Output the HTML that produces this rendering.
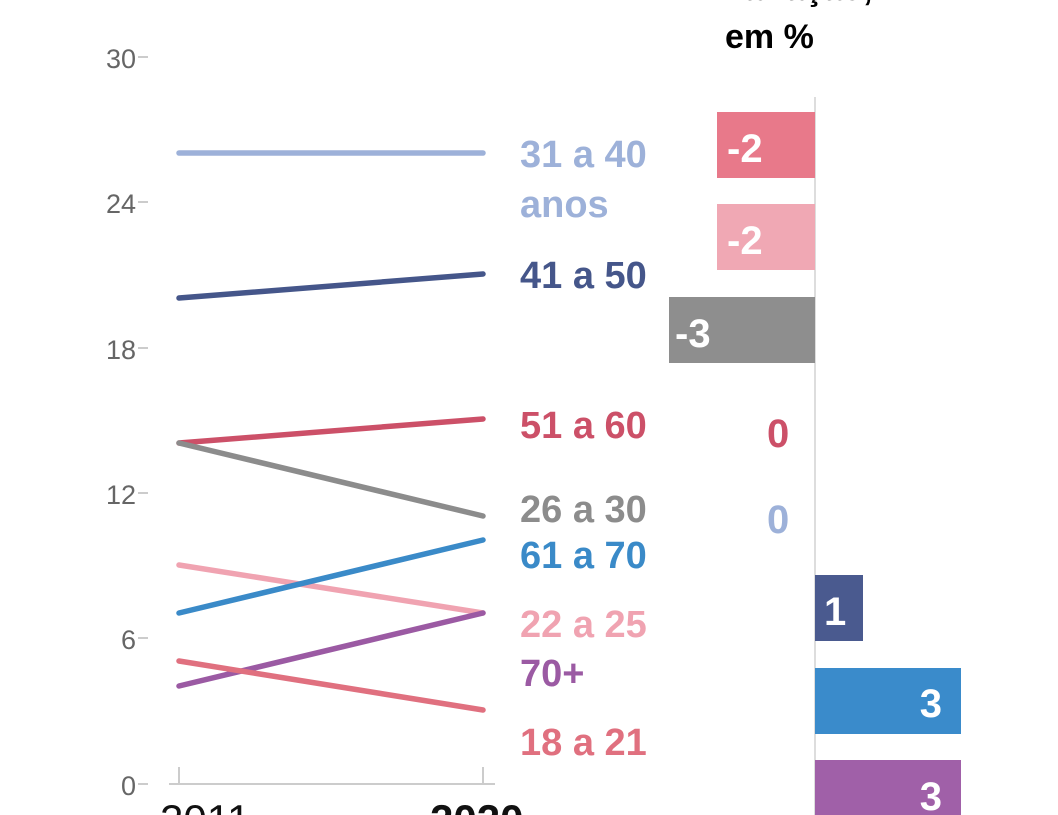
<!DOCTYPE html>
<html><head><meta charset="utf-8"><style>
html,body{margin:0;padding:0;background:#fff;}
svg{display:block;}
text{font-family:"Liberation Sans",sans-serif;}
</style></head><body>
<svg width="1058" height="815" viewBox="0 0 1058 815" xmlns="http://www.w3.org/2000/svg">
<g font-size="27" fill="#666" text-anchor="end">
<text x="136" y="68">30</text>
<text x="136" y="213">24</text>
<text x="136" y="359">18</text>
<text x="136" y="504">12</text>
<text x="136" y="649">6</text>
<text x="136" y="795">0</text>
</g>
<g stroke="#bbb" stroke-width="1.5">
<line x1="138" y1="57" x2="148" y2="57"/>
<line x1="138" y1="202" x2="148" y2="202"/>
<line x1="138" y1="348" x2="148" y2="348"/>
<line x1="138" y1="493" x2="148" y2="493"/>
<line x1="138" y1="638" x2="148" y2="638"/>
<line x1="138" y1="784" x2="148" y2="784"/>
</g>
<g stroke="#ccc" stroke-width="2">
<line x1="169" y1="784" x2="495" y2="784"/>
<line x1="179" y1="767" x2="179" y2="784"/>
<line x1="483" y1="767" x2="483" y2="784"/>
</g>
<text x="160" y="834" font-size="42" fill="#111">2011</text>
<text x="430" y="834" font-size="42" font-weight="bold" fill="#111">2020</text>
<g stroke-width="5.5" stroke-linecap="round" fill="none">
<line x1="179" y1="153" x2="483" y2="153" stroke="#9db1d9"/>
<line x1="179" y1="298" x2="483" y2="274" stroke="#45568a"/>
<line x1="179" y1="443" x2="483" y2="419" stroke="#cc5068"/>
<line x1="179" y1="443" x2="483" y2="516" stroke="#8c8c8c"/>
<line x1="179" y1="565" x2="483" y2="613" stroke="#f0a3b1"/>
<line x1="179" y1="613" x2="483" y2="540" stroke="#3a8ac8"/>
<line x1="179" y1="686" x2="483" y2="613" stroke="#9b5aa3"/>
<line x1="179" y1="661" x2="483" y2="710" stroke="#e0707f"/>
</g>
<g font-size="38" font-weight="bold">
<text x="520" y="167" fill="#9db1d9">31 a 40</text>
<text x="520" y="217" fill="#9db1d9">anos</text>
<text x="520" y="288" fill="#45568a">41 a 50</text>
<text x="520" y="438" fill="#cc5068">51 a 60</text>
<text x="520" y="522" fill="#8c8c8c">26 a 30</text>
<text x="520" y="568" fill="#3a8ac8">61 a 70</text>
<text x="520" y="637" fill="#f0a3b1">22 a 25</text>
<text x="520" y="686" fill="#9b5aa3">70+</text>
<text x="520" y="755" fill="#e0707f">18 a 21</text>
</g>
<text x="725" y="48" font-size="34" font-weight="bold" fill="#000">em %</text>
<text x="725" y="0" font-size="34" font-weight="bold" fill="#000">variação,</text>
<line x1="815" y1="97" x2="815" y2="815" stroke="#ddd" stroke-width="2"/>
<rect x="717" y="112" width="98" height="66" fill="#e8798a"/>
<rect x="717" y="204" width="98" height="66" fill="#f0a8b4"/>
<rect x="669" y="297" width="146" height="66" fill="#8e8e8e"/>
<rect x="815" y="575" width="48" height="66" fill="#4a5a8f"/>
<rect x="815" y="668" width="146" height="66" fill="#3a8bcb"/>
<rect x="815" y="760" width="146" height="66" fill="#a060a8"/>
<g font-size="40" font-weight="bold" fill="#fff">
<text x="727" y="162">-2</text>
<text x="727" y="254">-2</text>
<text x="675" y="347">-3</text>
<text x="824" y="625">1</text>
<text x="942" y="717" text-anchor="end">3</text>
<text x="942" y="810" text-anchor="end">3</text>
</g>
<text x="767" y="447" font-size="40" font-weight="bold" fill="#cc5068">0</text>
<text x="767" y="533" font-size="40" font-weight="bold" fill="#9db1d9">0</text>
</svg>
</body></html>
